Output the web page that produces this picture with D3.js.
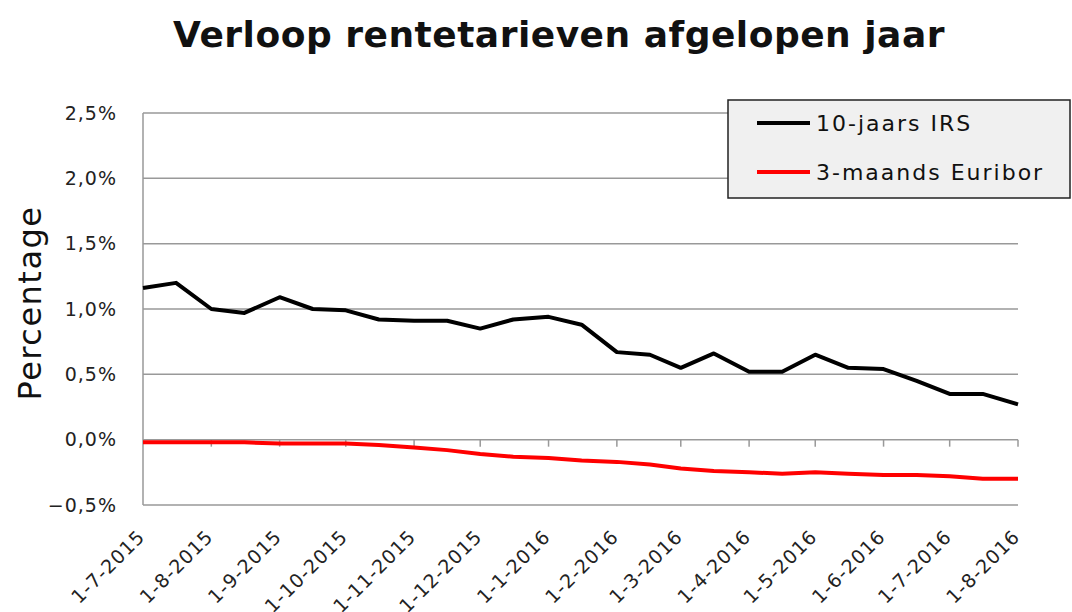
<!DOCTYPE html>
<html>
<head>
<meta charset="utf-8">
<script src="https://cdn.jsdelivr.net/npm/d3@7"></script>
<style>
  body { margin: 0; background: #fff; }
  svg { display: block; font-family: "DejaVu Sans", Verdana, sans-serif; }
</style>
</head>
<body>
<svg id="chart" width="1072" height="612"></svg>
<script>
// data: twice a month (1st and 16th)
const dates = [
  "2015-07-01", "2015-07-16", "2015-08-01", "2015-08-16", "2015-09-01", "2015-09-16",
  "2015-10-01", "2015-10-16", "2015-11-01", "2015-11-16", "2015-12-01", "2015-12-16",
  "2016-01-01", "2016-01-16", "2016-02-01", "2016-02-16", "2016-03-01", "2016-03-16",
  "2016-04-01", "2016-04-16", "2016-05-01", "2016-05-16", "2016-06-01", "2016-06-16",
  "2016-07-01", "2016-07-16", "2016-08-01"
];
const irs10 = [
  1.16, 1.20, 1.00, 0.97, 1.09, 1.00,
  0.99, 0.92, 0.91, 0.91, 0.85, 0.92,
  0.94, 0.88, 0.67, 0.65, 0.55, 0.66,
  0.52, 0.52, 0.65, 0.55, 0.54, 0.45,
  0.35, 0.35, 0.27
];
const euribor3m = [
  -0.02, -0.02, -0.02, -0.02, -0.03, -0.03,
  -0.03, -0.04, -0.06, -0.08, -0.11, -0.13,
  -0.14, -0.16, -0.17, -0.19, -0.22, -0.24,
  -0.25, -0.26, -0.25, -0.26, -0.27, -0.27,
  -0.28, -0.30, -0.30
];
const seriesNames = ["10-jaars IRS", "3-maands Euribor"];
const seriesColors = ["#000000", "#ff0000"];
const yTicks = [-0.5, 0, 0.5, 1.0, 1.5, 2.0, 2.5];
const xTickDates = [
  "2015-07-01", "2015-08-01", "2015-09-01", "2015-10-01", "2015-11-01", "2015-12-01",
  "2016-01-01", "2016-02-01", "2016-03-01", "2016-04-01", "2016-05-01", "2016-06-01",
  "2016-07-01", "2016-08-01"
];

const parse = d3.timeParse("%Y-%m-%d");
const fmtDate = d => `${d.getDate()}-${d.getMonth() + 1}-${d.getFullYear()}`;
const fmtPct = v => d3.format(".1f")(v).replace(".", ",").replace("-", "\u2212") + "%";

const svg = d3.select("#chart");

// plot area
const plot = { left: 143, right: 1018, top: 113, bottom: 505 };

const x = d3.scaleTime()
  .domain([parse(dates[0]), parse(dates[dates.length - 1])])
  .range([plot.left, plot.right]);

const y = d3.scaleLinear()
  .domain([-0.5, 2.5])
  .range([plot.bottom, plot.top]);

// title
svg.append("text")
  .attr("x", 559)
  .attr("y", 47)
  .attr("text-anchor", "middle")
  .attr("font-size", 36)
  .attr("font-weight", "bold")
  .attr("letter-spacing", 0.5)
  .attr("fill", "#111")
  .text("Verloop rentetarieven afgelopen jaar");

// gridlines
svg.append("g")
  .selectAll("line")
  .data(yTicks)
  .join("line")
  .attr("x1", plot.left)
  .attr("x2", plot.right)
  .attr("y1", d => y(d))
  .attr("y2", d => y(d))
  .attr("stroke", "#999")
  .attr("stroke-width", 1.5);

// left axis line
svg.append("line")
  .attr("x1", plot.left).attr("x2", plot.left)
  .attr("y1", plot.top).attr("y2", plot.bottom)
  .attr("stroke", "#999")
  .attr("stroke-width", 1.5);

// y tick labels
svg.append("g")
  .selectAll("text")
  .data(yTicks)
  .join("text")
  .attr("x", 117)
  .attr("y", d => y(d))
  .attr("dy", "0.35em")
  .attr("text-anchor", "end")
  .attr("font-size", 19)
  .attr("letter-spacing", 1)
  .attr("fill", "#222")
  .text(fmtPct);

// y axis title
svg.append("text")
  .attr("transform", "translate(41,303) rotate(-90)")
  .attr("text-anchor", "middle")
  .attr("font-size", 32)
  .attr("letter-spacing", 1.5)
  .attr("fill", "#111")
  .text("Percentage");

// tick marks on the zero line
svg.append("g")
  .selectAll("line")
  .data(xTickDates.slice(1))
  .join("line")
  .attr("x1", d => x(parse(d)))
  .attr("x2", d => x(parse(d)))
  .attr("y1", y(0))
  .attr("y2", y(0) + 7)
  .attr("stroke", "#999")
  .attr("stroke-width", 1.5);

// x tick labels, rotated (bottom ones run off the page, as in the original)
svg.append("g")
  .selectAll("text")
  .data(xTickDates)
  .join("text")
  .attr("transform", d => `translate(${x(parse(d)) + 3},${plot.bottom + 33}) rotate(-45)`)
  .attr("text-anchor", "end")
  .attr("font-size", 19)
  .attr("letter-spacing", 1)
  .attr("fill", "#222")
  .text(d => fmtDate(parse(d)));

// lines
const line = d3.line()
  .x((d, i) => x(parse(dates[i])))
  .y(d => y(d));

[irs10, euribor3m].forEach((vals, i) => {
  svg.append("path")
    .datum(vals)
    .attr("d", line)
    .attr("fill", "none")
    .attr("stroke", seriesColors[i])
    .attr("stroke-width", 4)
    .attr("stroke-linejoin", "round");
});

// legend
const legend = svg.append("g");
legend.append("rect")
  .attr("x", 728).attr("y", 100)
  .attr("width", 342).attr("height", 98)
  .attr("fill", "#f0f0f0")
  .attr("stroke", "#222")
  .attr("stroke-width", 1.5);

seriesNames.forEach((name, i) => {
  const ly = 123 + i * 49;
  legend.append("line")
    .attr("x1", 757).attr("x2", 810)
    .attr("y1", ly).attr("y2", ly)
    .attr("stroke", seriesColors[i])
    .attr("stroke-width", 4);
  legend.append("text")
    .attr("x", 816)
    .attr("y", ly)
    .attr("dy", "0.35em")
    .attr("font-size", 22)
    .attr("letter-spacing", 2)
    .attr("fill", "#111")
    .text(name);
});
</script>
</body>
</html>
